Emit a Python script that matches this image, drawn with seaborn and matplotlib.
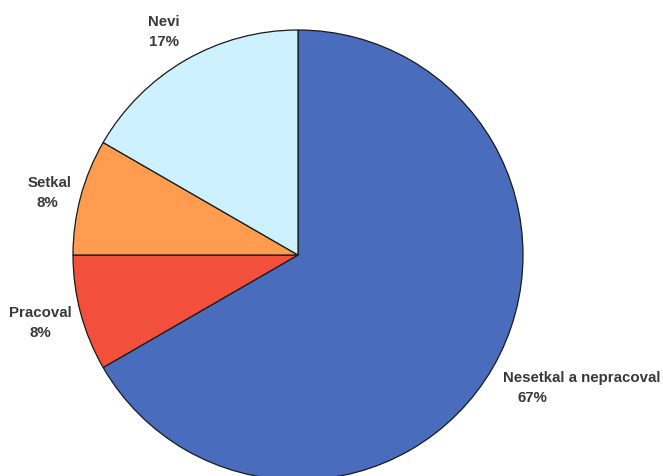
import matplotlib
matplotlib.use("Agg")
import matplotlib.pyplot as plt
import seaborn as sns

categories = ["Nesetkal a nepracoval", "Pracoval", "Setkal", "Nevi"]
values = [8, 1, 1, 2]
percent_labels = ["67%", "8%", "8%", "17%"]
colors = ["#4a6cbd", "#f2503c", "#ff9c50", "#cdf1fe"]

sns.set_theme(style="white")
plt.rcParams["font.family"] = ["Liberation Sans", "DejaVu Sans"]

W, H = 663, 477
fig = plt.figure(figsize=(W / 100, H / 100), dpi=100)
ax = fig.add_axes([0, 0, 1, 1])

ax.pie(values, colors=colors, startangle=90, counterclock=False,
       center=(298, H - 256), radius=225, frame=False,
       wedgeprops=dict(edgecolor="#1a1a1a", linewidth=0.9))

ax.set_xlim(0, W)
ax.set_ylim(0, H)
ax.set_aspect("equal")
ax.axis("off")

# label positions (pixel coords from top-left): (x_line1, y_line1, x_line2, y_line2)
label_pos = {
    "Nesetkal a nepracoval": (582, 378, 532, 398),
    "Pracoval": (40, 313, 40, 333),
    "Setkal": (50, 183, 47, 203),
    "Nevi": (164, 22, 164, 42),
}
for cat, pct in zip(categories, percent_labels):
    x1, y1, x2, y2 = label_pos[cat]
    ax.text(x1, H - y1, cat, ha="center", va="center", fontsize=10.8,
            fontweight="bold", color="#383838")
    ax.text(x2, H - y2, pct, ha="center", va="center", fontsize=10.8,
            fontweight="bold", color="#383838")

fig.savefig("out.png", dpi=100, facecolor="white")
